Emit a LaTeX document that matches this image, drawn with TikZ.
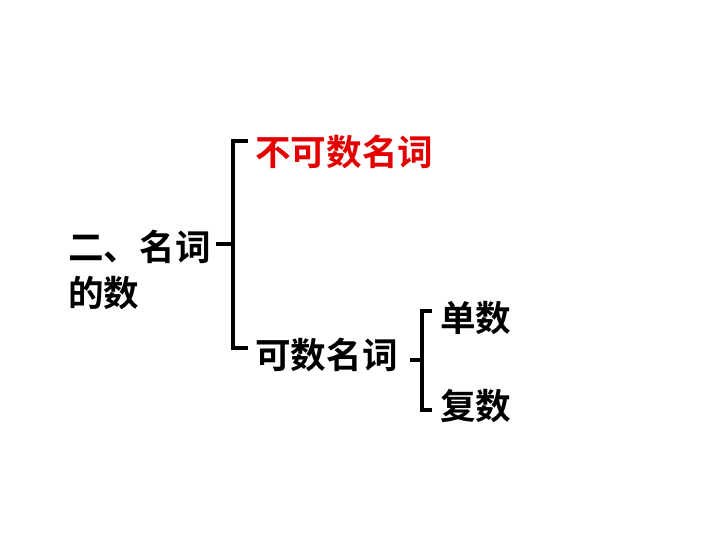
\documentclass[tikz,border=0pt]{standalone}
\usepackage{fontspec}
\newfontfamily\cjk{Noto Sans CJK SC Bold}
\usetikzlibrary{positioning}
\tikzset{
  word/.style={font=\cjk\fontsize{25.3}{32.5}\selectfont, inner sep=0pt, anchor=west},
  brace/.style={line width=2.6pt, black}
}
\begin{document}
\begin{tikzpicture}[x=0.025cm, y=-0.025cm]
    \useasboundingbox (0,0) rectangle (720,540);
    % labels
    \node[word, align=left] (topic) at (68,270) {二、名词\\的数};
    \node[word, red!90!black] (unc) at (255,152) {不可数名词};
    \node[word] (cnt) at (255,355) {可数名词};
    \node[word] (sing) at (440,318) {单数};
    \node[word] (plur) at (440,406) {复数};
    % big brace
    \coordinate (b1) at (248,141);
    \coordinate (b2) at (248,348);
    \coordinate (bm) at (216,244);
    \draw[brace] (b1) -- (233,141) -- (233,348) -- (b2);
    \draw[brace] (bm) -- (233,244);
    % small brace
    \coordinate (s1) at (432,311);
    \coordinate (s2) at (432,410);
    \coordinate (sm) at (410,360);
    \draw[brace] (s1) -- (422,311) -- (422,410) -- (s2);
    \draw[brace] (sm) -- (422,360);
\end{tikzpicture}
\end{document}
